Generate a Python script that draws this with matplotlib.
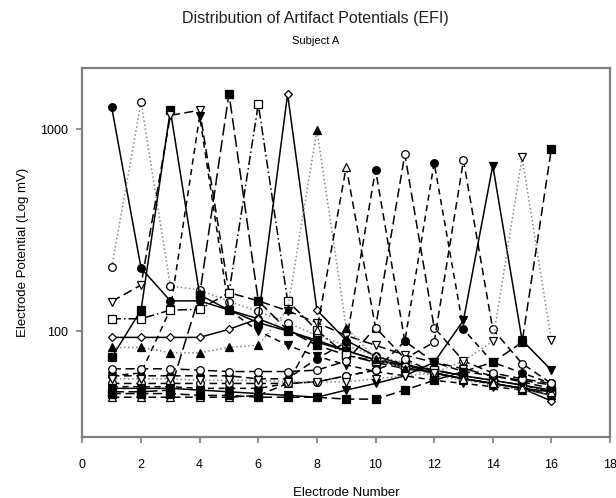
import matplotlib
matplotlib.use("Agg")
import matplotlib.pyplot as plt
import numpy as np

plt.rcParams['font.family'] = ['Liberation Sans', 'DejaVu Sans']

electrodes = list(range(1, 17))

# one list per recorded series (electrode potential, mV)
s01 = [1280, 205, 141, 141, 127, 115, 101, 88, 80, 72, 66, 62, 58, 55, 52, 48]
s02 = [207, 1360, 167, 160, 140, 125, 110, 95, 85, 75, 70, 65, 60, 57, 54, 50]
s03 = [74, 127, 1240, 151, 127, 110, 100, 90, 80, 72, 68, 64, 60, 57, 54, 51]
s04 = [140, 169, 1170, 1240, 155, 141, 126, 110, 95, 85, 76, 70, 65, 60, 57, 54]
s05 = [60, 62, 128, 1160, 127, 100, 85, 75, 68, 63, 60, 57, 55, 53, 51, 49]
s06 = [50, 50, 51, 151, 1500, 141, 101, 85, 76, 70, 65, 62, 58, 55, 52, 50]
s07 = [115, 115, 127, 128, 155, 1330, 141, 101, 76, 71, 68, 64, 60, 57, 54, 50]
s08 = [93, 93, 93, 93, 102, 115, 1490, 127, 90, 75, 68, 62, 58, 55, 52, 45]
s09 = [83, 83, 78, 78, 83, 85, 128, 990, 104, 73, 65, 60, 57, 54, 51, 48]
s10 = [47, 47, 47, 47, 47, 48, 55, 101, 650, 104, 73, 62, 58, 55, 52, 50]
s11 = [60, 60, 60, 60, 60, 58, 58, 73, 88, 630, 89, 70, 63, 60, 56, 52]
s12 = [65, 65, 65, 64, 63, 63, 63, 64, 71, 104, 750, 104, 71, 62, 58, 55]
s13 = [53, 53, 53, 52, 52, 52, 55, 56, 60, 64, 89, 680, 102, 70, 62, 55]
s14 = [55, 55, 55, 55, 55, 55, 55, 56, 60, 64, 73, 88, 700, 102, 69, 55]
s15 = [52, 52, 52, 51, 50, 49, 48, 47, 51, 55, 60, 70, 113, 660, 90, 64]
s16 = [58, 58, 58, 57, 57, 57, 56, 56, 56, 58, 60, 62, 71, 89, 725, 90]
s17 = [49, 49, 49, 48, 48, 47, 47, 47, 46, 46, 51, 57, 63, 70, 88, 800]

series = [s01, s02, s03, s04, s05, s06, s07, s08, s09, s10, s11, s12, s13, s14, s15, s16, s17]

# marker, filled?, linestyle, line colour
styles = [
    ('o', True, '-', 'black'),
    ('o', False, ':', '#888888'),
    ('s', True, '-', 'black'),
    ('v', False, (0, (6, 3)), 'black'),
    ('v', True, (0, (4, 3)), 'black'),
    ('s', True, (0, (8, 3)), 'black'),
    ('s', False, (0, (6, 2, 1, 2)), 'black'),
    ('D', False, '-', 'black'),
    ('^', True, ':', '#888888'),
    ('^', False, (0, (5, 3)), 'black'),
    ('o', True, (0, (5, 3)), 'black'),
    ('o', False, (0, (6, 3)), 'black'),
    ('o', True, (0, (4, 3)), 'black'),
    ('o', False, (0, (5, 3)), 'black'),
    ('v', True, '-', 'black'),
    ('v', False, ':', '#888888'),
    ('s', True, (0, (6, 3)), 'black'),
]

fig = plt.figure(figsize=(6.16, 4.98), dpi=100)
ax = fig.add_axes([0.1338, 0.1233, 0.9903 - 0.1338, 0.8628 - 0.1233])

for vals, (mk, filled, ls, lc) in zip(series, styles):
    ax.plot(electrodes, vals, linestyle=ls, color=lc, linewidth=1.1,
            marker=mk, markersize=5.5 if mk != 'D' else 4.5,
            markerfacecolor='black' if filled else 'white',
            markeredgecolor='black', markeredgewidth=0.9)

ax.set_yscale('log')
ax.set_xlim(0, 18)
ax.set_ylim(30, 2000)
ax.set_xticks(range(0, 19, 2))
ax.set_yticks([100, 1000])
ax.set_yticklabels(['100', '1000'])
ax.yaxis.set_minor_locator(matplotlib.ticker.NullLocator())

for sp in ax.spines.values():
    sp.set_color('#7f7f7f')
    sp.set_linewidth(1.6)
ax.tick_params(axis='both', which='major', direction='out', length=4, width=1.2,
               color='#7f7f7f', labelsize=9, pad=6)
ax.tick_params(axis='x', pad=12)

ax.set_xlabel('Electrode Number', fontsize=9.5, labelpad=12)
ax.set_ylabel('Electrode Potential (Log mV)', fontsize=9.5, labelpad=8)

fig.text(0.512, 0.962, 'Distribution of Artifact Potentials (EFI)', ha='center', va='center',
         fontsize=11.5, color='#202020')
fig.text(0.512, 0.918, 'Subject A', ha='center', va='center', fontsize=8)

fig.savefig('out.png', dpi=100)
